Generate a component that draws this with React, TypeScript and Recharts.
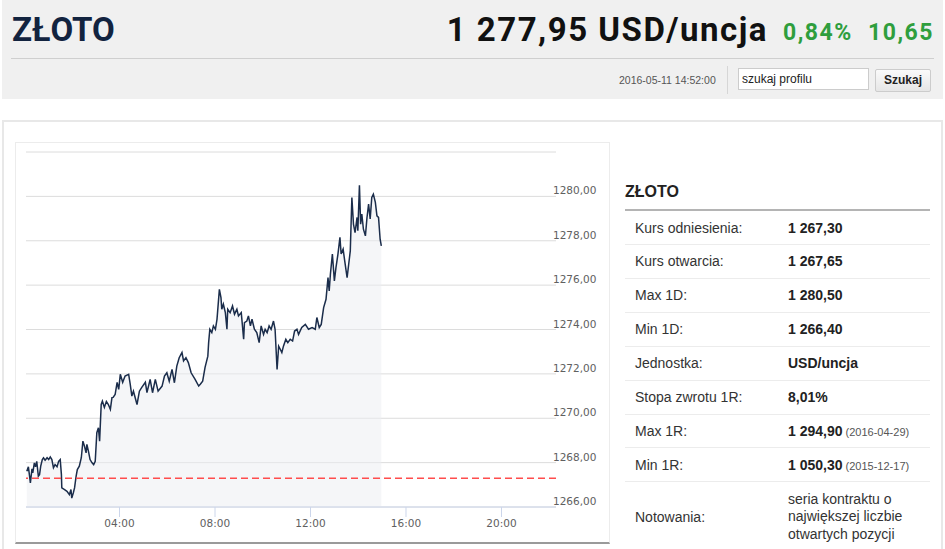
import React from "react";
import { ComposedChart, Area, XAxis, YAxis, CartesianGrid, ReferenceLine } from "recharts";

// notowania intraday 2016-05-11
const times = [
  "00:07", "00:11", "00:14", "00:16", "00:20", "00:22", "00:26", "00:29", "00:32", "00:36",
  "00:39", "00:42", "00:46", "00:49", "00:53", "00:58", "01:02", "01:06", "01:10", "01:14",
  "01:18", "01:23", "01:27", "01:31", "01:34", "01:35", "01:41", "01:48", "01:54", "01:58",
  "02:00", "02:04", "02:07", "02:11", "02:14", "02:19", "02:24", "02:28", "02:32", "02:36",
  "02:38", "02:42", "02:46", "02:51", "02:55", "02:59", "03:03", "03:07", "03:10", "03:14",
  "03:17", "03:22", "03:27", "03:32", "03:37", "03:41", "03:44", "03:49", "03:54", "03:58",
  "04:02", "04:08", "04:14", "04:23", "04:27", "04:31", "04:35", "04:44", "04:50", "04:56",
  "05:05", "05:09", "05:17", "05:23", "05:30", "05:37", "05:47", "05:53", "05:59", "06:05",
  "06:12", "06:18", "06:24", "06:30", "06:37", "06:41", "06:47", "06:53", "07:00", "07:10",
  "07:19", "07:23", "07:29", "07:35", "07:42", "07:44", "07:47", "07:52", "07:56", "08:01",
  "08:05", "08:09", "08:11", "08:15", "08:17", "08:21", "08:26", "08:30", "08:32", "08:38",
  "08:44", "08:49", "08:55", "08:59", "09:06", "09:12", "09:14", "09:20", "09:24", "09:29",
  "09:33", "09:39", "09:45", "09:51", "09:56", "10:02", "10:06", "10:11", "10:16", "10:21",
  "10:27", "10:31", "10:36", "10:40", "10:44", "10:48", "10:52", "10:58", "11:03", "11:09",
  "11:15", "11:20", "11:26", "11:30", "11:38", "11:47", "11:55", "12:04", "12:12", "12:16",
  "12:22", "12:27", "12:33", "12:39", "12:44", "12:47", "12:50", "12:55", "13:00", "13:04",
  "13:09", "13:14", "13:17", "13:22", "13:26", "13:32", "13:36", "13:40", "13:44", "13:48",
  "13:52", "13:57", "13:59", "14:03", "14:06", "14:09", "14:13", "14:18", "14:22", "14:26",
  "14:30", "14:34", "14:38", "14:43", "14:47", "14:51", "14:55", "14:58",
];

const prices = [
  1267.61, 1267.81, 1267.39, 1267.09, 1267.72, 1267.54, 1267.99, 1267.81, 1268.06, 1267.39,
  1267.46, 1267.84, 1268.14, 1268.22, 1268.11, 1268.22, 1268.14, 1268.26, 1268.14, 1267.77,
  1267.91, 1267.81, 1268.06, 1268.14, 1267.46, 1266.86, 1266.79, 1266.71, 1266.56, 1266.79,
  1266.4, 1266.64, 1266.86, 1267.39, 1267.69, 1267.84, 1268.22, 1268.97, 1268.74, 1268.44,
  1268.82, 1268.51, 1268.14, 1267.99, 1267.91, 1268.06, 1269.35, 1269.57, 1268.97, 1270.62,
  1270.77, 1270.49, 1270.76, 1270.62, 1270.4, 1270.93, 1270.94, 1271.07, 1271.62, 1271.3,
  1271.98, 1271.62, 1271.9, 1271.98, 1271.53, 1271.0, 1271.22, 1270.62, 1271.22, 1271.39,
  1271.62, 1271.16, 1271.75, 1271.15, 1271.75, 1271.22, 1271.45, 1271.9, 1272.05, 1271.67,
  1272.2, 1271.6, 1272.35, 1272.73, 1272.96, 1272.58, 1272.73, 1272.51, 1272.05, 1271.75,
  1271.45, 1271.53, 1271.67, 1272.29, 1272.8, 1273.41, 1274.01, 1273.86, 1274.16, 1274.01,
  1274.46, 1275.36, 1275.81, 1275.44, 1274.91, 1275.14, 1274.76, 1274.01, 1274.91, 1274.76,
  1275.06, 1274.69, 1274.91, 1274.61, 1274.76, 1273.56, 1274.31, 1274.38, 1274.61, 1274.16,
  1274.46, 1274.01, 1273.86, 1273.41, 1274.16, 1273.78, 1274.01, 1273.86, 1274.16, 1274.01,
  1274.38, 1274.01, 1272.2, 1273.25, 1273.11, 1272.96, 1273.25, 1273.56, 1273.41, 1273.56,
  1273.48, 1273.93, 1274.01, 1273.78, 1274.09, 1274.23, 1274.01, 1274.09, 1274.01, 1274.54,
  1274.09, 1274.23, 1274.99, 1275.36, 1276.34, 1275.74, 1276.49, 1277.4, 1276.19, 1276.79,
  1277.4, 1278.15, 1277.4, 1277.62, 1277.09, 1276.34, 1276.94, 1277.54, 1279.95, 1278.75,
  1278.37, 1279.05, 1278.45, 1280.5, 1278.75, 1279.2, 1278.52, 1278.22, 1279.05, 1279.65,
  1278.98, 1279.95, 1280.1, 1279.73, 1279.12, 1279.05, 1278.07, 1277.77,
];

const yTicks = [1266, 1268, 1270, 1272, 1274, 1276, 1278, 1280, 1282];
const xTicks = [240, 480, 720, 960, 1200];
const refPrice = 1267.3;

const infoLabels = [
  "Kurs odniesienia:", "Kurs otwarcia:", "Max 1D:", "Min 1D:", "Jednostka:",
  "Stopa zwrotu 1R:", "Max 1R:", "Min 1R:", "Notowania:",
];
const infoValues = [
  "1 267,30", "1 267,65", "1 280,50", "1 266,40", "USD/uncja",
  "8,01%", "1 294,90", "1 050,30", "",
];
const infoDates = ["", "", "", "", "", "", "(2016-04-29)", "(2015-12-17)", ""];
const notowaniaText = "seria kontraktu o największej liczbie otwartych pozycji";

const toMinutes = (s: string) => {
  const [h, m] = s.split(":").map(Number);
  return h * 60 + m;
};

const chartData = times.map((t, i) => ({ t: toMinutes(t), price: prices[i] }));

const fmtTime = (m: number) => `${String(Math.floor(m / 60)).padStart(2, "0")}:${String(m % 60).padStart(2, "0")}`;
const fmtPrice = (v: number) => v.toFixed(2).replace(".", ",");

const axisFont = "'DejaVu Sans', sans-serif";

function PriceTick(props: any) {
  const { x, y, payload } = props;
  if (payload.value === 1282) return null;
  return (
    <text x={x - 3} y={y - 6} fill="#606060" fontSize={10.5} fontFamily={axisFont} textAnchor="start" dominantBaseline="central">
      {fmtPrice(payload.value)}
    </text>
  );
}

function TimeTick(props: any) {
  const { x, y, payload } = props;
  return (
    <text x={x} y={y + 4} fill="#606060" fontSize={10.5} fontFamily={axisFont} textAnchor="middle" dominantBaseline="central">
      {fmtTime(payload.value)}
    </text>
  );
}

export default function App() {
  const sans = "'Liberation Sans', Arial, sans-serif";
  return (
    <div style={{ position: "relative", width: 945, height: 549, background: "#fff", fontFamily: sans, overflow: "hidden" }}>
      <style>{"body{margin:0;}"}</style>

      {/* naglowek */}
      <div style={{ position: "absolute", left: 2, top: 0, width: 941, height: 99, background: "#f0f0f0" }} />
      <div style={{ position: "absolute", left: 12, top: 10, fontFamily: "Roboto, sans-serif", fontWeight: 700, fontSize: 33, color: "#12233f" }}>
        ZŁOTO
      </div>
      <div style={{ position: "absolute", right: 177, top: 10, fontFamily: "Roboto, sans-serif", fontWeight: 700, fontSize: 33, color: "#111", letterSpacing: 1.5, whiteSpace: "nowrap" }}>
        1 277,95 USD/uncja
      </div>
      <div style={{ position: "absolute", left: 783, top: 19, fontFamily: "Roboto, sans-serif", fontWeight: 700, fontSize: 23, color: "#2f9e3d", letterSpacing: 1.5, whiteSpace: "nowrap" }}>
        0,84%
      </div>
      <div style={{ position: "absolute", right: 11, top: 19, fontFamily: "Roboto, sans-serif", fontWeight: 700, fontSize: 23, color: "#2f9e3d", letterSpacing: 1.5, whiteSpace: "nowrap" }}>
        10,65
      </div>
      <div style={{ position: "absolute", left: 11, top: 58, width: 923, height: 1, background: "#cfcfcf" }} />
      <div style={{ position: "absolute", left: 619, top: 74, fontSize: 10.5, color: "#555", whiteSpace: "nowrap" }}>
        2016-05-11 14:52:00
      </div>
      <div style={{ position: "absolute", left: 727, top: 66, width: 1, height: 28, background: "#d6d6d6" }} />
      <div style={{ position: "absolute", left: 738, top: 68, width: 131, height: 22, boxSizing: "border-box", background: "#fff", border: "1px solid #cccccc", fontSize: 12, color: "#222", padding: "3px 3px", whiteSpace: "nowrap" }}>
        szukaj profilu
      </div>
      <div style={{ position: "absolute", left: 875, top: 69, width: 56, height: 23, boxSizing: "border-box", background: "linear-gradient(#fafafa,#e6e6e6)", border: "1px solid #cccccc", borderRadius: 2, fontSize: 12, fontWeight: 700, color: "#222", textAlign: "center", lineHeight: "21px" }}>
        Szukaj
      </div>

      {/* ramka tresci */}
      <div style={{ position: "absolute", left: 2, top: 120, width: 941, height: 440, boxSizing: "border-box", border: "2px solid #e8e8e8" }} />

      {/* wykres */}
      <div style={{ position: "absolute", left: 15, top: 142, width: 595, height: 402, boxSizing: "border-box", borderTop: "1px solid #ececec", borderLeft: "1px solid #ececec", borderRight: "1px solid #ececec", borderBottom: "2px solid #9a9a9a" }} />
      <div style={{ position: "absolute", left: 15, top: 142 }}>
        <ComposedChart width={595} height={402} data={chartData} margin={{ top: 10, right: 0, bottom: 0, left: 11 }}>
          <CartesianGrid horizontal vertical={false} stroke="#dcdcdc" />
          <ReferenceLine y={refPrice} stroke="#ff4d4d" strokeDasharray="7 4" strokeWidth={1.5} />
          <Area
            type="linear"
            dataKey="price"
            stroke="#1b2d4b"
            strokeWidth={1.5}
            fill="#eceef1"
            fillOpacity={0.5}
            dot={false}
            activeDot={false}
            isAnimationActive={false}
          />
          <XAxis
            dataKey="t"
            type="number"
            domain={[5, 1337]}
            ticks={xTicks}
            height={37}
            axisLine={{ stroke: "#ccd6eb" }}
            tickLine={{ stroke: "#ccd6eb" }}
            tickSize={10}
            tick={<TimeTick />}
            allowDataOverflow
          />
          <YAxis
            orientation="right"
            type="number"
            domain={[1266, 1282]}
            ticks={yTicks}
            width={54}
            axisLine={false}
            tickLine={false}
            tickSize={0}
            tickMargin={0}
            tick={<PriceTick />}
            allowDataOverflow
          />
        </ComposedChart>
      </div>

      {/* tabela */}
      <div style={{ position: "absolute", left: 625, top: 183, fontSize: 16, fontWeight: 700, color: "#222" }}>ZŁOTO</div>
      <div style={{ position: "absolute", left: 625, top: 209, width: 305, height: 2, background: "#b4b4b4" }} />
      {infoLabels.map((label, i) => {
        const top = 211 + i * 33.9;
        const last = i === infoLabels.length - 1;
        return (
          <div key={label} style={{ position: "absolute", left: 625, top, width: 305, height: last ? 70 : 33, borderBottom: last ? "none" : "1px solid #ececec" }}>
            <div style={{ position: "absolute", left: 10, top: 0, height: last ? 70 : 33, display: "flex", alignItems: "center", fontSize: 14, color: "#333" }}>
              {label}
            </div>
            <div style={{ position: "absolute", left: 163, top: 0, height: last ? 70 : 33, display: "flex", alignItems: "center", fontSize: 14, color: "#222", whiteSpace: last ? "normal" : "nowrap" }}>
              {last ? (
                <span style={{ width: 130, lineHeight: "17.5px", fontWeight: 400, color: "#333" }}>{notowaniaText}</span>
              ) : (
                <span>
                  <b>{infoValues[i]}</b>
                  {infoDates[i] ? <span style={{ fontSize: 11, color: "#555" }}> {infoDates[i]}</span> : null}
                </span>
              )}
            </div>
          </div>
        );
      })}
    </div>
  );
}
